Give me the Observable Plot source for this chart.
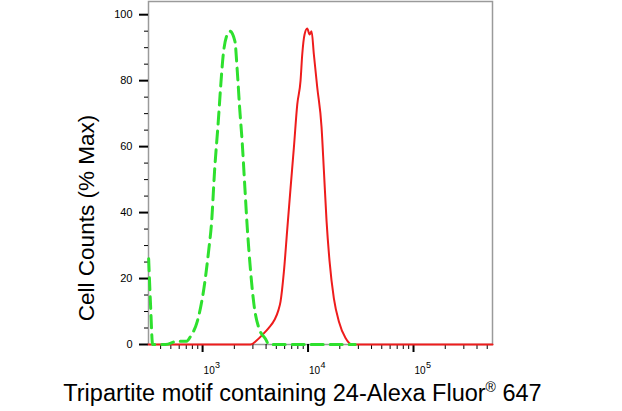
<!DOCTYPE html>
<html>
<head>
<meta charset="utf-8">
<script src="https://cdn.jsdelivr.net/npm/d3@7"></script>
<script src="https://cdn.jsdelivr.net/npm/@observablehq/plot@0.6"></script>
<style>
  html, body { margin: 0; padding: 0; background: #fff; }
</style>
</head>
<body>
<div id="chart"></div>
<script>
// Isotype control (green dashed)
const greenX = [308, 321, 336, 446, 576, 705, 770, 891, 1029, 1147, 1217, 1299, 1409, 1482, 1571, 1688, 1814, 2024, 2132, 2243, 2378, 2518, 2653, 2851, 3064, 3417, 3955, 4249, 8000, 16000, 28000];
const greenY = [26, 12, 0, 0, 1, 1, 2.5, 7, 17, 29, 37, 52.6, 67.7, 78, 88, 93.5, 95, 92, 83, 72, 61, 47.5, 35.4, 22.3, 12.3, 5, 1.7, 0, 0, 0, 0];
// Sample (red solid)
const redX = [308, 2851, 3251, 3707, 4226, 4812, 5248, 5483, 5898, 6353, 6828, 7336, 7903, 8490, 8812, 9265, 9821, 10340, 10800, 11350, 12220, 13420, 14120, 14980, 15990, 17570, 19600, 22660, 26220, 561000];
const redY = [0, 0, 1.2, 3, 5, 7.5, 10.5, 13, 22, 35, 47.5, 59.6, 72.8, 80, 88, 94, 95.8, 94, 95, 88, 78, 66, 53, 37.4, 25.3, 14, 7, 2, 0, 0];

const xMajor = [1e3, 1e4, 1e5];
const xMinor = [400, 500, 600, 700, 800, 900,
  2000, 3000, 4000, 5000, 6000, 7000, 8000, 9000,
  20000, 30000, 40000, 50000, 60000, 70000, 80000, 90000,
  200000, 300000, 400000, 500000];
const yMajor = [0, 20, 40, 60, 80, 100];
const yMinor = [5, 10, 15, 25, 30, 35, 45, 50, 55, 65, 70, 75, 85, 90, 95];
const xTitle = "Tripartite motif containing 24-Alexa Fluor® 647";
const yTitle = "Cell Counts (% Max)";

const green = greenX.map((x, i) => ({x, y: greenY[i]}));
const red = redX.map((x, i) => ({x, y: redY[i]}));

const svg = Plot.plot({
  width: 622,
  height: 411,
  marginLeft: 148,
  marginRight: 130,
  marginTop: 1,
  marginBottom: 67,
  style: {fontFamily: "'Liberation Sans', Arial, sans-serif", background: "#fff", color: "#000"},
  x: {type: "log", domain: [307, 561000], axis: null},
  y: {domain: [0, 104], axis: null},
  marks: [
    Plot.frame({stroke: "#9a9a9a", strokeWidth: 1.5}),
    Plot.axisX(xMinor, {tickSize: 5, tickFormat: () => "", label: null, stroke: "#000", strokeWidth: 1}),
    Plot.axisX(xMajor, {tickSize: 8, tickFormat: () => "", label: null, stroke: "#000", strokeWidth: 2}),
    Plot.axisY(yMinor, {tickSize: 4, tickFormat: () => "", label: null, stroke: "#000", strokeWidth: 1}),
    Plot.axisY(yMajor, {tickSize: 9, tickPadding: 7, label: null, stroke: "#000", strokeWidth: 2, fontSize: 11, fill: "#000"}),
    Plot.text(xMajor, {x: d => d, frameAnchor: "bottom", text: () => "10", textAnchor: "start", lineAnchor: "bottom", dx: 1, dy: 29, fontSize: 10, fill: "#000"}),
    Plot.text(xMajor, {x: d => d, frameAnchor: "bottom", text: d => String(Math.round(Math.log10(d))), textAnchor: "start", lineAnchor: "bottom", dx: 12.5, dy: 23, fontSize: 9, fill: "#000"}),
    Plot.line(red, {x: "x", y: "y", stroke: "#ee1c1c", strokeWidth: 2, curve: "monotone-x"}),
    Plot.line(green, {x: "x", y: "y", stroke: "#2ee02e", strokeWidth: 3, strokeDasharray: "12,7", curve: "monotone-x"}),
    Plot.text([xTitle], {frameAnchor: "bottom", textAnchor: "middle", lineAnchor: "bottom", dx: -18, dy: 56, fontSize: 23.5, fill: "#000"}),
    Plot.text([yTitle], {frameAnchor: "left", rotate: -90, textAnchor: "middle", lineAnchor: "middle", dx: -62, dy: 45, fontSize: 22.5, fill: "#000"})
  ]
});

// superscript the registered mark
d3.select(svg).selectAll("text").filter(function() { return this.textContent === xTitle; }).each(function() {
  const t = d3.select(this);
  t.text(null);
  t.append("tspan").text("Tripartite motif containing 24-Alexa Fluor");
  t.append("tspan").attr("font-size", "14").attr("dy", "-9").text("®");
  t.append("tspan").attr("dy", "9").text(" 647");
});

document.getElementById("chart").appendChild(svg);
</script>
</body>
</html>
